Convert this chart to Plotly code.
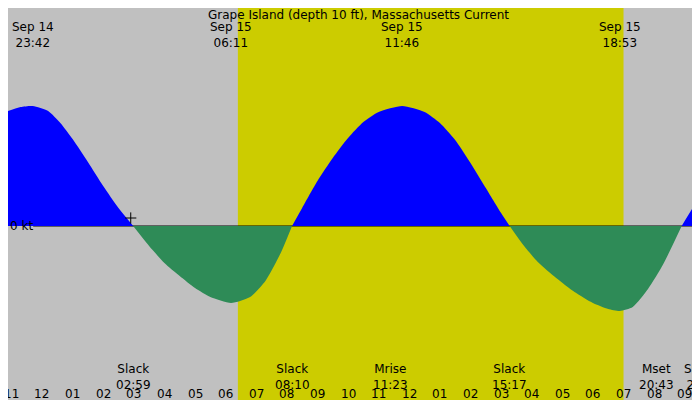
import plotly.graph_objects as go

# hours after midnight Sep 15, current in knots (+ flood, - ebb)
flood1_h = [-1.11, -0.7, -0.3, 0.2, 0.6, 1.0, 1.5, 2.0, 2.5, 2.98]
flood1_v = [1.15, 1.19, 1.20, 1.15, 1.03, 0.87, 0.64, 0.40, 0.18, 0.0]
ebb1_h = [2.98, 3.5, 4.0, 4.5, 5.0, 5.5, 6.18, 6.8, 7.3, 7.8, 8.17]
ebb1_v = [0.0, -0.2, -0.37, -0.5, -0.62, -0.71, -0.77, -0.71, -0.55, -0.27, 0.0]
flood2_h = [8.17, 8.5, 9.0, 9.5, 10.0, 10.5, 11.0, 11.77, 12.5, 13.0, 13.5, 14.0, 14.5, 15.0, 15.28]
flood2_v = [0.0, 0.18, 0.45, 0.68, 0.88, 1.04, 1.14, 1.20, 1.14, 1.03, 0.86, 0.63, 0.38, 0.13, 0.0]
ebb2_h = [15.28, 15.7, 16.2, 16.8, 17.4, 18.0, 18.5, 18.88, 19.3, 19.8, 20.3, 20.9]
ebb2_v = [0.0, -0.18, -0.36, -0.52, -0.66, -0.77, -0.83, -0.85, -0.81, -0.63, -0.38, 0.0]
flood3_h = [20.9, 21.3, 21.76]
flood3_v = [0.0, 0.2, 0.42]

sunrise, sunset = 6.4, 19.0
top_labels = [(-0.3, "Sep 14<br>23:42"), (6.18, "Sep 15<br>06:11"),
              (11.77, "Sep 15<br>11:46"), (18.88, "Sep 15<br>18:53")]
bottom_events = [(2.98, "Slack<br>02:59", "center"), (8.17, "Slack<br>08:10", "center"),
                 (11.38, "Mrise<br>11:23", "center"), (15.28, "Slack<br>15:17", "center"),
                 (20.72, "Mset<br>20:43", "right"), (20.9, "Slack<br>20:5", "left")]
hour_ticks = list(range(-1, 22))
hour_text = ["11", "12"] + ["%02d" % h for h in range(1, 13)] + ["%02d" % h for h in range(1, 10)]

XR = [-1.11, 21.76]
fig = go.Figure()
for hs, vs, col in [(flood1_h, flood1_v, "#0000FF"), (ebb1_h, ebb1_v, "#2E8B57"),
                    (flood2_h, flood2_v, "#0000FF"), (ebb2_h, ebb2_v, "#2E8B57"),
                    (flood3_h, flood3_v, "#0000FF")]:
    fig.add_trace(go.Scatter(x=hs, y=vs, mode="lines",
                             line=dict(color=col, width=0, shape="spline", smoothing=0.6),
                             fill="tozeroy", fillcolor=col, hoverinfo="skip"))
fig.add_trace(go.Scatter(x=[2.9], y=[0.08], mode="markers", hoverinfo="skip",
                         marker=dict(symbol="cross-thin", size=8, line=dict(color="black", width=1))))

shapes = [dict(type="rect", xref="x", yref="paper", x0=sunrise, x1=sunset, y0=0, y1=1,
               fillcolor="#CCCC00", line_width=0, layer="below"),
          dict(type="line", xref="paper", yref="y", x0=0.036, x1=1, y0=0, y1=0,
               line=dict(color="black", width=1), layer="below")]
for h, _, _ in bottom_events:
    shapes.append(dict(type="line", xref="x", yref="paper", x0=h, x1=h, y0=0, y1=0.02,
                       line=dict(color="red", width=1)))
shapes.append(dict(type="line", xref="x", yref="paper", x0=0, x1=0, y0=0, y1=0.02,
                   line=dict(color="black", width=3)))

ann = [dict(x=0.5, y=1.005, xref="paper", yref="paper", yanchor="top", showarrow=False,
            text="Grape Island (depth 10 ft), Massachusetts Current")]
for h, t in top_labels:
    ann.append(dict(x=h, y=0.975, xref="x", yref="paper", yanchor="top", showarrow=False, text=t))
for h, t, a in bottom_events:
    ann.append(dict(x=h, y=0.12, xref="x", yref="paper", yanchor="top", xanchor=a,
                    showarrow=False, text=t))
for h, t in zip(hour_ticks, hour_text):
    ann.append(dict(x=h, y=0.035, xref="x", yref="paper", yanchor="middle",
                    showarrow=False, text=t))
ann.append(dict(x=0, y=0, xref="paper", yref="y", xanchor="left", showarrow=False, text="0 kt"))

fig.update_layout(
    width=700, height=400, margin=dict(l=0, r=0, t=0, b=0, pad=0, autoexpand=False),
    plot_bgcolor="#C0C0C0", paper_bgcolor="#C0C0C0", showlegend=False,
    font=dict(family="DejaVu Sans", size=12, color="black"),
    shapes=shapes, annotations=ann,
    xaxis=dict(range=XR, showgrid=False, zeroline=False, tickvals=hour_ticks,
               showticklabels=False, ticks="inside", ticklen=8, tickcolor="black"),
    yaxis=dict(range=[-1.82, 2.18], visible=False),
)
fig.write_html("out.html")
